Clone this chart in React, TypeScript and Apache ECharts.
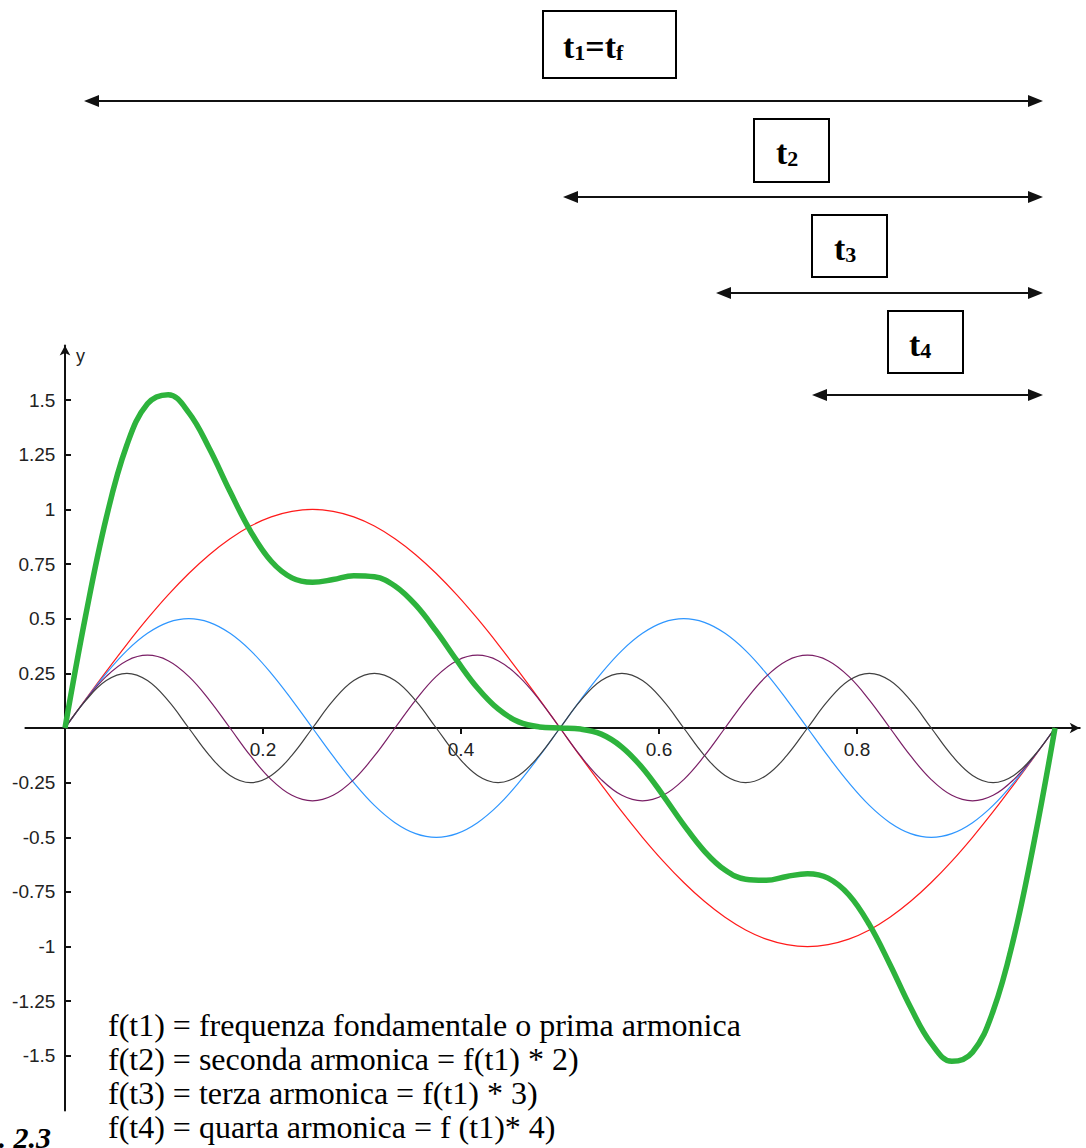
import React, { useEffect, useRef } from "react";
import * as echarts from "echarts";

const xs = [0, 0.0208, 0.0417, 0.0625, 0.0833, 0.1042, 0.125, 0.1458, 0.1667, 0.1875, 0.2083, 0.2292, 0.25, 0.2708, 0.2917, 0.3125, 0.3333, 0.3542, 0.375, 0.3958, 0.4167, 0.4375, 0.4583, 0.4792, 0.5, 0.5208, 0.5417, 0.5625, 0.5833, 0.6042, 0.625, 0.6458, 0.6667, 0.6875, 0.7083, 0.7292, 0.75, 0.7708, 0.7917, 0.8125, 0.8333, 0.8542, 0.875, 0.8958, 0.9167, 0.9375, 0.9583, 0.9792, 1];

const f1 = [0, 0.131, 0.259, 0.383, 0.5, 0.609, 0.707, 0.793, 0.866, 0.924, 0.966, 0.991, 1, 0.991, 0.966, 0.924, 0.866, 0.793, 0.707, 0.609, 0.5, 0.383, 0.259, 0.131, 0, -0.131, -0.259, -0.383, -0.5, -0.609, -0.707, -0.793, -0.866, -0.924, -0.966, -0.991, -1, -0.991, -0.966, -0.924, -0.866, -0.793, -0.707, -0.609, -0.5, -0.383, -0.259, -0.131, 0];

const f2 = [0, 0.129, 0.25, 0.354, 0.433, 0.483, 0.5, 0.483, 0.433, 0.354, 0.25, 0.129, 0, -0.129, -0.25, -0.354, -0.433, -0.483, -0.5, -0.483, -0.433, -0.354, -0.25, -0.129, 0, 0.129, 0.25, 0.354, 0.433, 0.483, 0.5, 0.483, 0.433, 0.354, 0.25, 0.129, 0, -0.129, -0.25, -0.354, -0.433, -0.483, -0.5, -0.483, -0.433, -0.354, -0.25, -0.129, 0];

const f3 = [0, 0.128, 0.236, 0.308, 0.333, 0.308, 0.236, 0.128, 0, -0.128, -0.236, -0.308, -0.333, -0.308, -0.236, -0.128, 0, 0.128, 0.236, 0.308, 0.333, 0.308, 0.236, 0.128, 0, -0.128, -0.236, -0.308, -0.333, -0.308, -0.236, -0.128, 0, 0.128, 0.236, 0.308, 0.333, 0.308, 0.236, 0.128, 0, -0.128, -0.236, -0.308, -0.333, -0.308, -0.236, -0.128, 0];

const f4 = [0, 0.125, 0.217, 0.25, 0.217, 0.125, 0, -0.125, -0.217, -0.25, -0.217, -0.125, 0, 0.125, 0.217, 0.25, 0.217, 0.125, 0, -0.125, -0.217, -0.25, -0.217, -0.125, 0, 0.125, 0.217, 0.25, 0.217, 0.125, 0, -0.125, -0.217, -0.25, -0.217, -0.125, 0, 0.125, 0.217, 0.25, 0.217, 0.125, 0, -0.125, -0.217, -0.25, -0.217, -0.125, 0];

const fSum = [0, 0.513, 0.962, 1.295, 1.483, 1.525, 1.443, 1.279, 1.082, 0.9, 0.763, 0.687, 0.667, 0.679, 0.697, 0.692, 0.65, 0.563, 0.443, 0.309, 0.183, 0.087, 0.028, 0.005, 0, -0.005, -0.028, -0.087, -0.183, -0.309, -0.443, -0.563, -0.65, -0.692, -0.697, -0.679, -0.667, -0.687, -0.763, -0.9, -1.082, -1.279, -1.443, -1.525, -1.483, -1.295, -0.962, -0.513, 0];

const xTickValues = [0.2, 0.4, 0.6, 0.8, 1];
const xLabelValues = [0.2, 0.4, 0.6, 0.8];
const yTickValues = [-1.5, -1.25, -1, -0.75, -0.5, -0.25, 0.25, 0.5, 0.75, 1, 1.25, 1.5];

const legendLines = [
  "f(t1) = frequenza fondamentale o prima armonica",
  "f(t2) = seconda armonica = f(t1) * 2)",
  "f(t3) = terza armonica = f(t1) * 3)",
  "f(t4) = quarta armonica = f (t1)* 4)",
];

const SERIF = '"Liberation Serif", "Times New Roman", serif';
const SANS = '"Liberation Sans", Arial, sans-serif';

function arrow(x1: number, x2: number, y: number) {
  const c = "#111";
  return [
    { type: "line", shape: { x1: x1 + 10, y1: y, x2: x2 - 10, y2: y }, style: { stroke: c, lineWidth: 2 } },
    { type: "polygon", shape: { points: [[x1, y], [x1 + 15, y - 6], [x1 + 15, y + 6]] }, style: { fill: c } },
    { type: "polygon", shape: { points: [[x2, y], [x2 - 15, y - 6], [x2 - 15, y + 6]] }, style: { fill: c } },
  ];
}

function box(x: number, y: number, w: number, h: number) {
  return { type: "rect", shape: { x, y, width: w, height: h }, style: { fill: "#fff", stroke: "#000", lineWidth: 2 } };
}

const richStyle = {
  t: { fontSize: 34, fontWeight: "bold", fontFamily: SERIF, fill: "#000", verticalAlign: "bottom", lineHeight: 38 },
  s: { fontSize: 22, fontWeight: "bold", fontFamily: SERIF, fill: "#000", verticalAlign: "bottom", lineHeight: 18 },
};

function label(x: number, y: number, text: string) {
  return {
    type: "text",
    x,
    y,
    style: { text, rich: richStyle, align: "left", verticalAlign: "middle" },
  };
}

export default function App() {
  const ref = useRef<HTMLDivElement>(null);
  useEffect(() => {
    document.body.style.margin = "0";
    const chart = echarts.init(ref.current!, null, { renderer: "svg" });
    const mk = (ys: number[]) => xs.map((x, i) => [x, ys[i]]);
    const lineSeries = (name: string, ys: number[], color: string, width: number) => ({
      name,
      type: "line",
      data: mk(ys),
      smooth: 0.4,
      showSymbol: false,
      lineStyle: { color, width },
      itemStyle: { color },
    });
    const graphic: any[] = [
      box(543, 11, 133, 67),
      label(563, 44, "{t|t}{s|1}{t|=t}{s|f}"),
      ...arrow(84, 1043, 101),
      box(754, 119, 75, 63),
      label(776, 150, "{t|t}{s|2}"),
      ...arrow(563, 1043, 197),
      box(812, 215, 75, 62),
      label(834, 246, "{t|t}{s|3}"),
      ...arrow(716, 1043, 293),
      box(888, 311, 75, 62),
      label(909, 342, "{t|t}{s|4}"),
      ...arrow(812, 1043, 395),
      { type: "text", x: 76, y: 356, style: { text: "y", font: `18px ${SANS}`, fill: "#222", verticalAlign: "middle" } },
      { type: "text", x: 1084, y: 728, rotation: -Math.PI / 2, style: { text: "x", font: `17px ${SANS}`, fill: "#222", align: "center", verticalAlign: "bottom" } },
      ...legendLines.map((t, i) => ({
        type: "text",
        x: 108,
        y: 1025 + i * 34,
        style: { text: t, font: `32px ${SERIF}`, fill: "#000", verticalAlign: "middle" },
      })),
      { type: "text", x: 51, y: 1152, style: { text: "Fig. 2.3", font: `italic bold 30px ${SERIF}`, fill: "#000", align: "right", verticalAlign: "bottom" } },
    ];
    chart.setOption({
      animation: false,
      backgroundColor: "#fff",
      grid: { left: 25.4, top: 345.5, width: 1054.35, height: 765, containLabel: false, outerBoundsMode: "none" },
      xAxis: {
        type: "value",
        min: -0.04,
        max: 1.025,
        splitLine: { show: false },
        axisLine: { onZero: true, lineStyle: { color: "#111", width: 2 }, symbol: ["none", "arrow"], symbolSize: [8, 10] },
        axisTick: { show: true, customValues: xTickValues, length: 6, inside: false, lineStyle: { color: "#111", width: 2 } },
        axisLabel: { customValues: xLabelValues, color: "#222", fontSize: 19, fontFamily: SANS, margin: -371 },
      },
      yAxis: {
        type: "value",
        min: -1.75,
        max: 1.75,
        splitLine: { show: false },
        axisLine: { onZero: true, lineStyle: { color: "#111", width: 2 }, symbol: ["none", "arrow"], symbolSize: [8, 10] },
        axisTick: { show: true, customValues: yTickValues, length: 6, inside: true, lineStyle: { color: "#111", width: 2 } },
        axisLabel: { customValues: yTickValues, color: "#222", fontSize: 19, fontFamily: SANS, margin: -30 },
      },
      series: [
        lineSeries("f(t1)", f1, "#ff1a1a", 1.2),
        lineSeries("f(t2)", f2, "#2e96ff", 1.2),
        lineSeries("f(t3)", f3, "#7a1f66", 1.2),
        lineSeries("f(t4)", f4, "#404040", 1.2),
        lineSeries("somma", fSum, "#2db33c", 5.5),
      ],
      graphic,
    });
    return () => chart.dispose();
  }, []);
  return <div ref={ref} style={{ position: "absolute", left: 0, top: 0, width: 1086, height: 1148 }} />;
}
